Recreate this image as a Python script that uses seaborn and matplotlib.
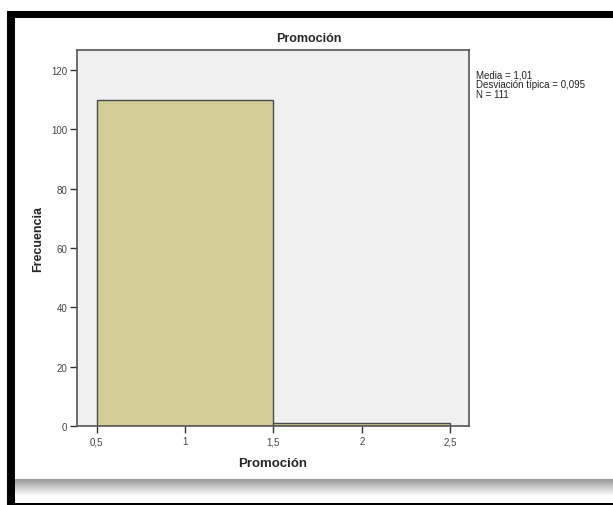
import numpy as np
import pandas as pd
import matplotlib
matplotlib.use("Agg")
import matplotlib.pyplot as plt
from matplotlib.patches import Rectangle
import seaborn as sns

# Data
bin_edges = [0.5, 1.5, 2.5]
values = [1, 2]
counts = [110, 1]
x_ticks = [0.5, 1, 1.5, 2, 2.5]
x_tick_labels = ["0,5", "1", "1,5", "2", "2,5"]
y_ticks = [0, 20, 40, 60, 80, 100, 120]
title = "Promoción"
xlabel = "Promoción"
ylabel = "Frecuencia"
stats_text = "Media = 1,01\nDesviación típica = 0,095\nN = 111"

df = pd.DataFrame({"Promocion": values, "count": counts})

sns.set_style("white")
plt.rcParams["font.family"] = ["Liberation Sans", "DejaVu Sans"]

W, H = 613, 506
fig = plt.figure(figsize=(W / 100, H / 100), dpi=100)
fig.patch.set_facecolor("white")

def fx(x):
    return x / W

def fy(y):
    return 1 - y / H

left, right, top, bottom = 77, 469, 51, 427.3
ax = fig.add_axes([fx(left), fy(bottom), fx(right - left), (bottom - top) / H])
ax.set_facecolor("#f0f0f0")

sns.histplot(data=df, x="Promocion", weights="count", bins=bin_edges, ax=ax,
             color="#d3ce97", edgecolor="#4a4a4a", linewidth=1.0, alpha=1)

ax.set_xlim(0.388, 2.607)
ax.set_ylim(0, 126.7)
ax.set_xticks(x_ticks)
ax.set_xticklabels(x_tick_labels)
ax.set_yticks(y_ticks)
ax.tick_params(axis="both", direction="out", length=5, width=1, color="#333333",
               labelsize=7, labelcolor="#444444", pad=2, left=True, bottom=True)
for s in ax.spines.values():
    s.set_color("#555555")
    s.set_linewidth(1.2)

ax.set_xlabel(xlabel, fontsize=9.5, fontweight="bold", labelpad=8)
ax.set_ylabel(ylabel, fontsize=9, fontweight="bold", labelpad=5)
fig.text(fx(309), fy(39), title, ha="center", va="center", fontsize=9, fontweight="bold")
fig.text(fx(476), fy(70), stats_text, ha="left", va="top", fontsize=7,
         color="#222222", linespacing=1.0)

# Frame decorations
fig.add_artist(Rectangle((fx(7), fy(19)), fx(W - 7), 7.3 / H, transform=fig.transFigure,
                         facecolor="black", edgecolor="none"))
fig.add_artist(Rectangle((fx(7), fy(506)), fx(8), (506 - 11.7) / H, transform=fig.transFigure,
                         facecolor="black", edgecolor="none"))
fig.add_artist(Rectangle((fx(7), fy(506)), fx(W - 7), 2 / H, transform=fig.transFigure,
                         facecolor="black", edgecolor="none"))
gax = fig.add_axes([fx(15), fy(497), fx(W - 15), 17 / H])
grad = np.linspace(0.6, 1.0, 50).reshape(-1, 1)
gax.imshow(grad, aspect="auto", cmap="gray", vmin=0, vmax=1, extent=[0, 1, 0, 1])
gax.axis("off")

fig.savefig("out.png", dpi=100, facecolor="white")
